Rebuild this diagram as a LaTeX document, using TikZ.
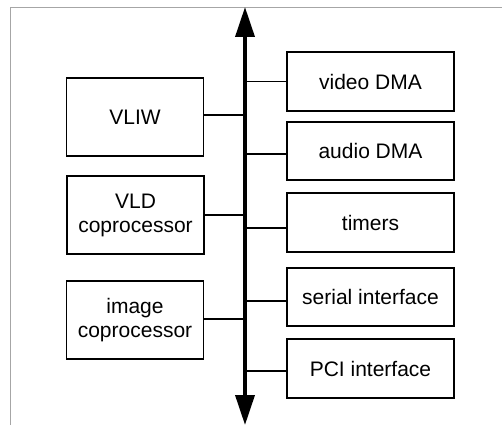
\documentclass[tikz,border=0pt]{standalone}
\usepackage{fontspec}
\setmainfont{Liberation Sans}
\usetikzlibrary{arrows.meta}
\begin{document}
\begin{tikzpicture}[x=1pt,y=-1pt,
  blk/.style={draw, line width=1.6pt, inner sep=0pt, align=center,
    font=\fontsize{21}{24}\selectfont},
  lbox/.style={blk, minimum width=137pt, minimum height=78pt},
  rbox/.style={blk, minimum width=167pt, minimum height=58pt},
  conn/.style={line width=1.3pt},
  bus/.style={line width=3.6pt, -{Triangle[length=30pt,width=19pt]}}]
\useasboundingbox (0,0) rectangle (502,425);
% partial frame
\draw[gray!70, line width=0.9pt] (10,425) -- (10,7) -- (502,7);
% bus
\coordinate (mid) at (245,200);
\coordinate (bustop) at (245,7);
\coordinate (busbot) at (245,425);
\draw[bus] (mid) -- (bustop);
\draw[bus] (mid) -- (busbot);
% left boxes
\node[lbox] (vliw) at (135,117) {VLIW};
\node[lbox] (vld) at (135.5,215) {VLD\\coprocessor};
\node[lbox] (img) at (135,320) {image\\coprocessor};
% right boxes
\node[rbox, minimum height=59pt] (vdma) at (370.5,81.5) {video DMA};
\node[rbox] (adma) at (370.5,151) {audio DMA};
\node[rbox, minimum height=59pt] (timers) at (370.5,222.5) {timers};
\node[rbox] (serial) at (370.5,297) {serial interface};
\node[rbox, minimum height=59pt] (pci) at (370.5,368.5) {PCI interface};
% connectors
\draw[conn] ([yshift=2pt]vliw.east) -- ([yshift=2pt]vliw.east -| bustop);
\draw[conn] (vld.east) -- (vld.east -| bustop);
\draw[conn] ([yshift=1pt]img.east) -- ([yshift=1pt]img.east -| bustop);
\draw[conn] (vdma.west) -- (vdma.west -| bustop);
\draw[conn] ([yshift=-3pt]adma.west) -- ([yshift=-3pt]adma.west -| bustop);
\draw[conn] ([yshift=-5.5pt]timers.west) -- ([yshift=-5.5pt]timers.west -| bustop);
\draw[conn] ([yshift=-4pt]serial.west) -- ([yshift=-4pt]serial.west -| bustop);
\draw[conn] ([yshift=-2.5pt]pci.west) -- ([yshift=-2.5pt]pci.west -| bustop);
\end{tikzpicture}
\end{document}
